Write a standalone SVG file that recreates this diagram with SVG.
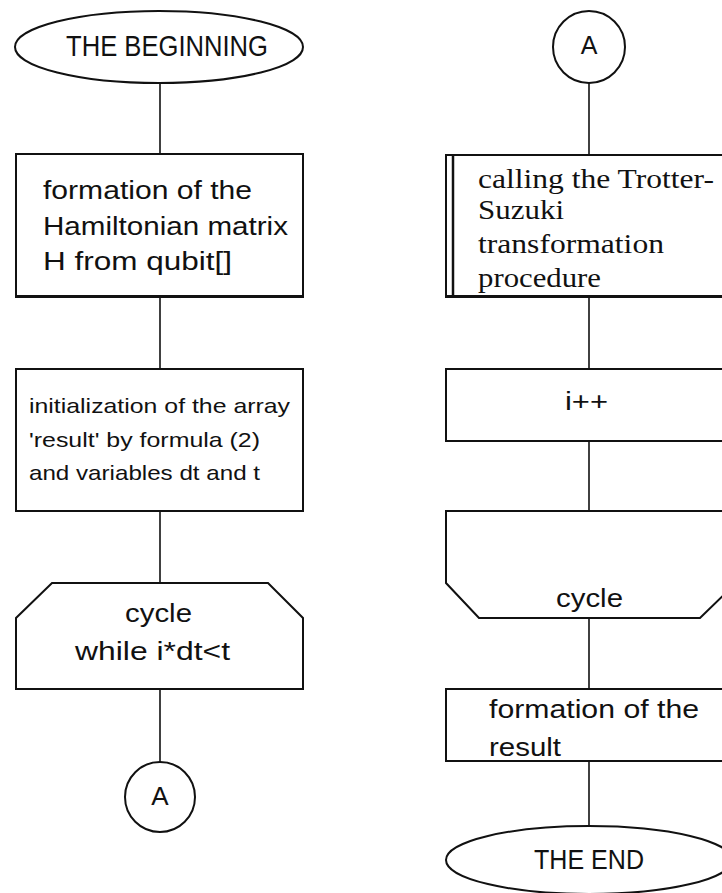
<svg xmlns="http://www.w3.org/2000/svg" width="722" height="893" viewBox="0 0 722 893">
<style>
.s{fill:#fff;stroke:#111;stroke-width:2}
.c{stroke:#111;stroke-width:1.6;fill:none}
.t{font-family:"Liberation Sans",Arial,sans-serif;fill:#111}
.r{font-family:"Liberation Serif","Times New Roman",serif;fill:#111}
</style>
<rect width="722" height="893" fill="#fff"/>
<g id="connectors">
<line class="c" x1="160" y1="83" x2="160" y2="154"/>
<line class="c" x1="160" y1="297" x2="160" y2="369"/>
<line class="c" x1="160" y1="511" x2="160" y2="583"/>
<line class="c" x1="160" y1="689" x2="160" y2="762"/>
<line class="c" x1="589" y1="83" x2="589" y2="155"/>
<line class="c" x1="589" y1="297" x2="589" y2="369"/>
<line class="c" x1="589" y1="441" x2="589" y2="511"/>
<line class="c" x1="589" y1="618" x2="589" y2="689"/>
<line class="c" x1="589" y1="761" x2="589" y2="826"/>
</g>
<g id="begin">
<ellipse class="s" cx="159" cy="47" rx="144" ry="36"/>
<text class="t" x="66" y="56" font-size="29" textLength="202" lengthAdjust="spacingAndGlyphs">THE BEGINNING</text>
</g>
<g id="hamiltonian">
<rect class="s" x="16" y="154" width="287" height="143"/>
<line x1="16" y1="296.5" x2="303" y2="296.5" stroke="#111" stroke-width="3"/>
<text class="t" font-size="26"><tspan x="43" y="199" textLength="209" lengthAdjust="spacingAndGlyphs">formation of the</tspan><tspan x="43" y="235" textLength="245" lengthAdjust="spacingAndGlyphs">Hamiltonian matrix</tspan><tspan x="43" y="270" textLength="189" lengthAdjust="spacingAndGlyphs">H from qubit[]</tspan></text>
</g>
<g id="init">
<rect class="s" x="16" y="369" width="287" height="142"/>
<text class="t" font-size="21"><tspan x="29" y="413" textLength="261" lengthAdjust="spacingAndGlyphs">initialization of the array</tspan><tspan x="29" y="447" textLength="231" lengthAdjust="spacingAndGlyphs">'result' by formula (2)</tspan><tspan x="29" y="480" textLength="231" lengthAdjust="spacingAndGlyphs">and variables dt and t</tspan></text>
</g>
<g id="loopStart">
<path class="s" d="M52,583 L268,583 L303,618 L303,689 L16,689 L16,618 Z"/>
<text class="t" x="125" y="622" font-size="25" textLength="67" lengthAdjust="spacingAndGlyphs">cycle</text>
<text class="t" x="75" y="660" font-size="25" textLength="155" lengthAdjust="spacingAndGlyphs">while i*dt&lt;t</text>
</g>
<g id="connectorA1">
<circle class="s" cx="160" cy="797" r="35"/>
<text class="t" x="160" y="805" font-size="26" text-anchor="middle">A</text>
</g>
<g id="connectorA2">
<circle class="s" cx="589" cy="47" r="36"/>
<text class="t" x="589" y="54" font-size="25" text-anchor="middle">A</text>
</g>
<g id="trotter">
<rect class="s" x="446" y="155" width="290" height="142"/>
<line x1="453" y1="155" x2="453" y2="297" stroke="#111" stroke-width="2.5"/>
<line x1="446" y1="296.5" x2="736" y2="296.5" stroke="#111" stroke-width="3"/>
<text class="r" font-size="27"><tspan x="478" y="188" textLength="236" lengthAdjust="spacingAndGlyphs">calling the Trotter-</tspan><tspan x="478" y="219" textLength="86" lengthAdjust="spacingAndGlyphs">Suzuki</tspan><tspan x="478" y="253" textLength="186" lengthAdjust="spacingAndGlyphs">transformation</tspan><tspan x="478" y="287" textLength="123" lengthAdjust="spacingAndGlyphs">procedure</tspan></text>
</g>
<g id="increment">
<rect class="s" x="446" y="369" width="290" height="72"/>
<text class="t" x="565" y="410" font-size="26" textLength="43" lengthAdjust="spacingAndGlyphs">i++</text>
</g>
<g id="loopEnd">
<path class="s" d="M446,511 L736,511 L736,583 L700,618 L479,618 L446,583 Z"/>
<text class="t" x="556" y="607" font-size="25" textLength="67" lengthAdjust="spacingAndGlyphs">cycle</text>
</g>
<g id="result">
<rect class="s" x="446" y="689" width="290" height="72"/>
<text class="t" font-size="26"><tspan x="489" y="718" textLength="210" lengthAdjust="spacingAndGlyphs">formation of the</tspan><tspan x="489" y="756" textLength="72" lengthAdjust="spacingAndGlyphs">result</tspan></text>
</g>
<g id="end">
<ellipse class="s" cx="589" cy="860" rx="143" ry="34"/>
<text class="t" x="534" y="869" font-size="28" textLength="110" lengthAdjust="spacingAndGlyphs">THE END</text>
</g>
</svg>
